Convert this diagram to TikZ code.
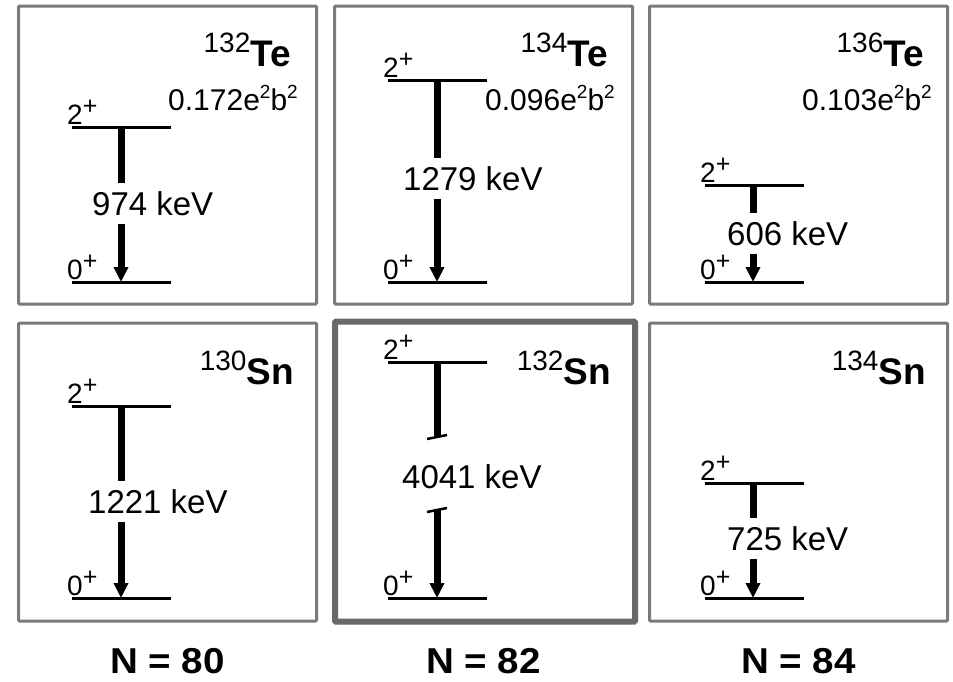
\documentclass[tikz,border=0pt]{standalone}
\usepackage{fontspec}
\setmainfont{Liberation Sans}
\usetikzlibrary{arrows.meta,positioning,calc}

\definecolor{framegray}{RGB}{122,122,122}
\definecolor{magicgray}{RGB}{105,105,105}

\newcommand{\parity}[1]{\raisebox{10pt}{\fontsize{25}{26}\selectfont #1}}
\newcommand{\expo}[1]{\raisebox{12pt}{\fontsize{19}{20}\selectfont #1}}
\newcommand{\massno}[1]{\raisebox{14pt}{\fontsize{28}{30}\mdseries #1}}

\begin{document}
\begin{tikzpicture}[
  x=1pt, y=-1pt,
  panel/.style={draw=framegray, line width=3pt, rounded corners=1pt,
                minimum width=298pt, minimum height=298pt, inner sep=0pt},
  magic/.style={panel, draw=magicgray, line width=6pt,
                minimum width=300pt, minimum height=300pt},
  level/.style={line width=3pt},
  gam/.style={line width=7pt},
  gamend/.style={gam, -{Triangle[length=15pt,width=14pt]}},
  spin/.style={font=\fontsize{28}{30}\selectfont, anchor=base west, inner sep=0pt},
  energy/.style={font=\fontsize{33}{36}\selectfont, anchor=base west,
                 inner xsep=0pt, inner ysep=8pt},
  nucl/.style={font=\fontsize{37}{40}\selectfont\bfseries, anchor=base east, inner sep=0pt},
  be2/.style={font=\fontsize{30}{32}\selectfont, anchor=base west, inner sep=0pt},
  nlab/.style={font=\fontsize{36}{40}\selectfont\bfseries, inner sep=0pt},
]
\useasboundingbox (0,0) rectangle (953,681);

% panels
\node[panel] (p1) at (167.5,155) {};
\node[panel] (p2) at (483.5,155) {};
\node[panel] (p3) at (798.5,155) {};
\node[panel] (p4) at (167.5,472) {};
\node[magic] (p5) at (485,471.5) {};
\node[panel] (p6) at (798.5,472) {};

% nuclei
\node[nucl] (te132) at (291,66) {\massno{132}Te};
\node[nucl] (te134) at (608,66) {\massno{134}Te};
\node[nucl] (te136) at (924,66) {\massno{136}Te};
\node[nucl] (sn130) at (294,384) {\massno{130}Sn};
\node[nucl] (sn132) at (611,384) {\massno{132}Sn};
\node[nucl] (sn134) at (926,384) {\massno{134}Sn};

\node[be2] (q132) at (168,110) {0.172e\expo{2}b\expo{2}};
\node[be2] (q134) at (485,110) {0.096e\expo{2}b\expo{2}};
\node[be2] (q136) at (802,110) {0.103e\expo{2}b\expo{2}};

% levels
\coordinate (u1) at (72,127);  \coordinate (g1) at (72,282);
\coordinate (u2) at (388,80);  \coordinate (g2) at (388,282);
\coordinate (u3) at (705,185); \coordinate (g3) at (705,282);
\coordinate (u4) at (72,406);  \coordinate (g4) at (72,598);
\coordinate (u5) at (388,362); \coordinate (g5) at (388,598);
\coordinate (u6) at (705,483); \coordinate (g6) at (705,598);

\foreach \l in {u1,g1,u2,g2,u3,g3,u4,g4,u5,g5,u6,g6}
  \draw[level] (\l) -- ++(99,0);

\node[spin] (s1u) at ([shift={(-5pt,3pt)}]u1) {2\parity{+}};
\node[spin] (s1g) at ([shift={(-5pt,3pt)}]g1) {0\parity{+}};
\node[spin] (s2u) at ([shift={(-5pt,3pt)}]u2) {2\parity{+}};
\node[spin] (s2g) at ([shift={(-5pt,3pt)}]g2) {0\parity{+}};
\node[spin] (s3u) at ([shift={(-5pt,3pt)}]u3) {2\parity{+}};
\node[spin] (s3g) at ([shift={(-5pt,3pt)}]g3) {0\parity{+}};
\node[spin] (s4u) at ([shift={(-5pt,3pt)}]u4) {2\parity{+}};
\node[spin] (s4g) at ([shift={(-5pt,3pt)}]g4) {0\parity{+}};
\node[spin] (s5u) at ([shift={(-5pt,3pt)}]u5) {2\parity{+}};
\node[spin] (s5g) at ([shift={(-5pt,3pt)}]g5) {0\parity{+}};
\node[spin] (s6u) at ([shift={(-5pt,3pt)}]u6) {2\parity{+}};
\node[spin] (s6g) at ([shift={(-5pt,3pt)}]g6) {0\parity{+}};

% transitions
\node[energy] (e974)  at (92,215)  {974 keV};
\node[energy] (e1279) at (403,190) {1279 keV};
\node[energy] (e606)  at (727,245) {606 keV};
\node[energy] (e1221) at (88,513)  {1221 keV};
\node[energy] (e4041) at (402,488) {4041 keV};
\node[energy] (e725)  at (727,550) {725 keV};

\coordinate (a1) at (121,127); \coordinate (b1) at (121,282);
\coordinate (a2) at (437,80);  \coordinate (b2) at (437,282);
\coordinate (a3) at (753,185); \coordinate (b3) at (753,282);
\coordinate (a4) at (121,406); \coordinate (b4) at (121,598);
\coordinate (a5) at (437,362); \coordinate (b5) at (437,598);
\coordinate (a6) at (753,483); \coordinate (b6) at (753,598);

\draw[gam] (a1) -- (a1 |- e974.north);
\draw[gamend] (a1 |- e974.south) -- (b1);
\draw[gam] (a2) -- (a2 |- e1279.north);
\draw[gamend] (a2 |- e1279.south) -- (b2);
\draw[gam] (a3) -- (a3 |- e606.north);
\draw[gamend] (a3 |- e606.south) -- (b3);
\draw[gam] (a4) -- (a4 |- e1221.north);
\draw[gamend] (a4 |- e1221.south) -- (b4);
\draw[gam] (a6) -- (a6 |- e725.north);
\draw[gamend] (a6 |- e725.south) -- (b6);

% broken arrow for the doubly magic core
\coordinate (k5a) at (437,437);
\coordinate (k5b) at (437,510);
\draw[gam] (a5) -- (k5a);
\draw[gamend] (k5b) -- (b5);
\draw[line width=2.5pt] ([shift={(-10pt,-2pt)}]k5a) -- ([shift={(10pt,2pt)}]k5a);
\draw[line width=2.5pt] ([shift={(-10pt,-2pt)}]k5b) -- ([shift={(10pt,2pt)}]k5b);

% neutron numbers
\node[nlab, below=25.5pt of p4] (n80) {\scalebox{1.07}[1]{N = 80}};
\node[nlab, below=25.5pt of p6] (n84) {\scalebox{1.07}[1]{N = 84}};
\node[nlab] (n82) at (n80 -| p2) {\scalebox{1.07}[1]{N = 82}};
\end{tikzpicture}
\end{document}
